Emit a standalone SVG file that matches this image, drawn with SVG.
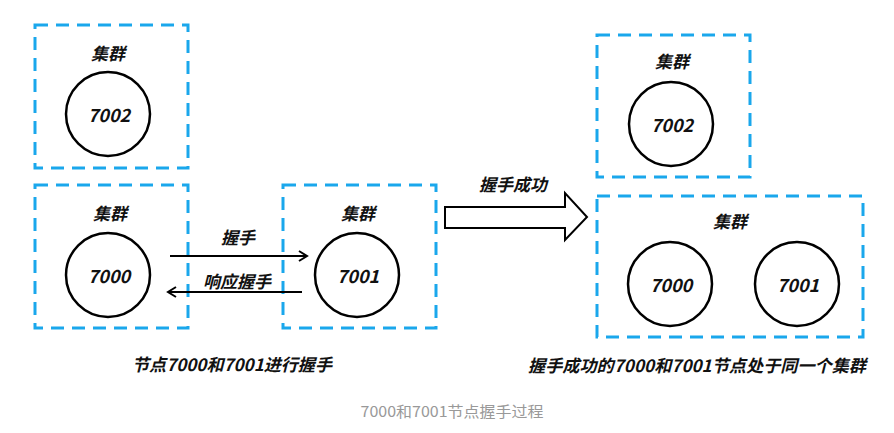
<svg xmlns="http://www.w3.org/2000/svg" width="894" height="433" viewBox="0 0 894 433">
<defs>
<style>
.box{fill:none;stroke:#1AA7EC;stroke-width:3;stroke-dasharray:13 8}
.node{fill:#fff;stroke:#000;stroke-width:2.5}
.t{font-family:"Noto Sans CJK SC","Liberation Sans",sans-serif;font-weight:bold;font-style:italic;fill:#111;text-anchor:middle;dominant-baseline:central}
.lbl{font-size:17px}
.num{font-size:18px}
.cap{font-family:"Noto Sans CJK SC","Liberation Sans",sans-serif;font-size:15px;fill:#999;text-anchor:middle;dominant-baseline:central}
.line{stroke:#000;stroke-width:2;fill:none}
</style>
<marker id="ah" markerWidth="12" markerHeight="12" refX="10" refY="6" orient="auto" markerUnits="userSpaceOnUse">
<path d="M2,1 L10,6 L2,11" fill="none" stroke="#000" stroke-width="2"/>
</marker>
</defs>
<rect width="894" height="433" fill="#fff"/>

<g id="cluster-left-7002">
<rect class="box" x="35" y="25" width="153" height="143"/>
<text class="t lbl" x="108" y="52">集群</text>
<circle class="node" cx="108" cy="114" r="42"/>
<text class="t num" x="109" y="114">7002</text>
</g>

<g id="cluster-left-7000">
<rect class="box" x="35" y="185" width="153" height="143"/>
<text class="t lbl" x="110" y="212">集群</text>
<circle class="node" cx="108" cy="275" r="42"/>
<text class="t num" x="109" y="275">7000</text>
</g>

<g id="cluster-left-7001">
<rect class="box" x="283" y="185" width="153" height="143"/>
<text class="t lbl" x="358" y="212">集群</text>
<circle class="node" cx="357" cy="275" r="42"/>
<text class="t num" x="358" y="275">7001</text>
</g>

<g id="cluster-right-7002">
<rect class="box" x="597" y="35" width="153" height="142"/>
<text class="t lbl" x="672" y="60">集群</text>
<circle class="node" cx="671" cy="124" r="42"/>
<text class="t num" x="672" y="124">7002</text>
</g>

<g id="cluster-right-merged">
<rect class="box" x="597" y="196" width="266" height="141"/>
<text class="t lbl" x="730" y="220">集群</text>
<circle class="node" cx="670" cy="284" r="42"/>
<text class="t num" x="671" y="284">7000</text>
<circle class="node" cx="797" cy="284" r="42"/>
<text class="t num" x="798" y="284">7001</text>
</g>

<g id="connectors">
<line class="line" x1="170" y1="256" x2="307" y2="256" marker-end="url(#ah)"/>
<text class="t lbl" x="238" y="236">握手</text>
<line class="line" x1="302" y1="292" x2="168" y2="292" marker-end="url(#ah)"/>
<text class="t lbl" x="237" y="280">响应握手</text>
<polygon points="445,207 565,207 565,193 587,217 565,240 565,228 445,228" fill="#fff" stroke="#000" stroke-width="2"/>
<text class="t lbl" x="513" y="183">握手成功</text>
</g>

<g id="labels">
<text class="t lbl" x="232" y="363" textLength="200" lengthAdjust="spacingAndGlyphs">节点7000和7001进行握手</text>
<text class="t lbl" x="697" y="364" textLength="338" lengthAdjust="spacingAndGlyphs">握手成功的7000和7001节点处于同一个集群</text>
<text class="cap" x="452" y="410" textLength="183" lengthAdjust="spacingAndGlyphs">7000和7001节点握手过程</text>
</g>
</svg>
